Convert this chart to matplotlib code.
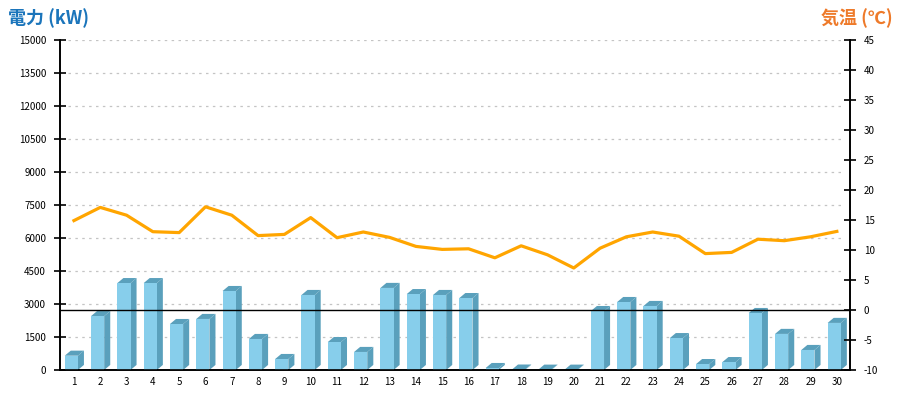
import numpy as np
import matplotlib
matplotlib.use("Agg")
import matplotlib.pyplot as plt
from matplotlib.patches import Polygon

plt.rcParams['font.family'] = ['Noto Sans CJK JP', 'DejaVu Sans']

# data
days = list(range(1, 31))
power_kw = [650, 2450, 3950, 3950, 2090, 2320, 3590, 1410, 500, 3410,
            1270, 820, 3730, 3450, 3410, 3270, 90, 20, 15, 15,
            2680, 3090, 2910, 1450, 270, 360, 2590, 1640, 910, 2140]
temp_c = [14.9, 17.1, 15.8, 13.05, 12.9, 17.2, 15.8, 12.4, 12.6, 15.4,
          12.05, 13.0, 12.1, 10.6, 10.1, 10.2, 8.7, 10.7, 9.2, 7.0,
          10.3, 12.2, 13.0, 12.3, 9.4, 9.6, 11.8, 11.55, 12.2, 13.1]
left_ticks = [0, 1500, 3000, 4500, 6000, 7500, 9000, 10500, 12000, 13500, 15000]
right_ticks = list(range(-10, 50, 5))

front_col = '#87ceeb'
side_col = '#5aa0bc'

fig = plt.figure(figsize=(9, 4), dpi=100)
ax = fig.add_axes([60 / 900, 30 / 400, 790 / 900, 330 / 400])
ax2 = ax.twinx()

ax.set_xlim(0.47, 30.5)
ax.set_ylim(0, 15000)
ax2.set_ylim(-10, 45)

# grid (left axis only)
for t in left_ticks[1:]:
    ax.axhline(t, xmin=0.01, xmax=0.99, color='#c4c4c4', lw=0.9,
               ls=(0, (2, 3.5)), zorder=0)

# 3D-looking bars
w = 0.5
off = -0.1
dx = 0.23
dy = 230
for x, v in zip(days, power_kw):
    l = x + off - w / 2
    r = x + off + w / 2
    side = Polygon([(r, 0), (r + dx, dy), (r + dx, v + dy), (r, v)],
                   closed=True, fc=side_col, ec='none', zorder=2)
    top = Polygon([(l, v), (l + dx, v + dy), (r + dx, v + dy), (r, v)],
                  closed=True, fc=side_col, ec='none', zorder=2)
    ax.add_patch(side)
    ax.add_patch(top)
ax.bar([d + off for d in days], power_kw, width=w, color=front_col,
       edgecolor='none', zorder=3)

# temperature line and 0 line on right axis
ax2.axhline(0, color='black', lw=1, zorder=1)
ax2.plot(days, temp_c, color='#ffa500', lw=2.3, zorder=4)

ax.set_yticks(left_ticks)
ax.set_yticklabels([str(t) for t in left_ticks])
ax2.set_yticks(right_ticks)
ax2.set_yticklabels([str(t) for t in right_ticks])
ax.set_xticks(days)
ax.set_xticklabels([str(d) for d in days])

for a in (ax, ax2):
    a.spines['top'].set_visible(False)
    a.spines['left'].set_linewidth(1.2)
    a.spines['right'].set_linewidth(1.2)
    a.spines['bottom'].set_linewidth(1.2)
ax.tick_params(axis='y', direction='inout', length=8, width=1.2, labelsize=7, pad=6)
ax2.tick_params(axis='y', direction='inout', length=8, width=1.2, labelsize=7, pad=6)
ax.tick_params(axis='x', length=0, labelsize=7, pad=5)

fig.text(8 / 900, 1 - 18 / 400, '電力 (kW)', color='#1b75bb', fontsize=13,
         fontweight='bold', va='center', ha='left')
fig.text(893 / 900, 1 - 18 / 400, '気温 (℃)', color='#ee7a2a', fontsize=13,
         fontweight='bold', va='center', ha='right')

fig.savefig('out.png', dpi=100)
